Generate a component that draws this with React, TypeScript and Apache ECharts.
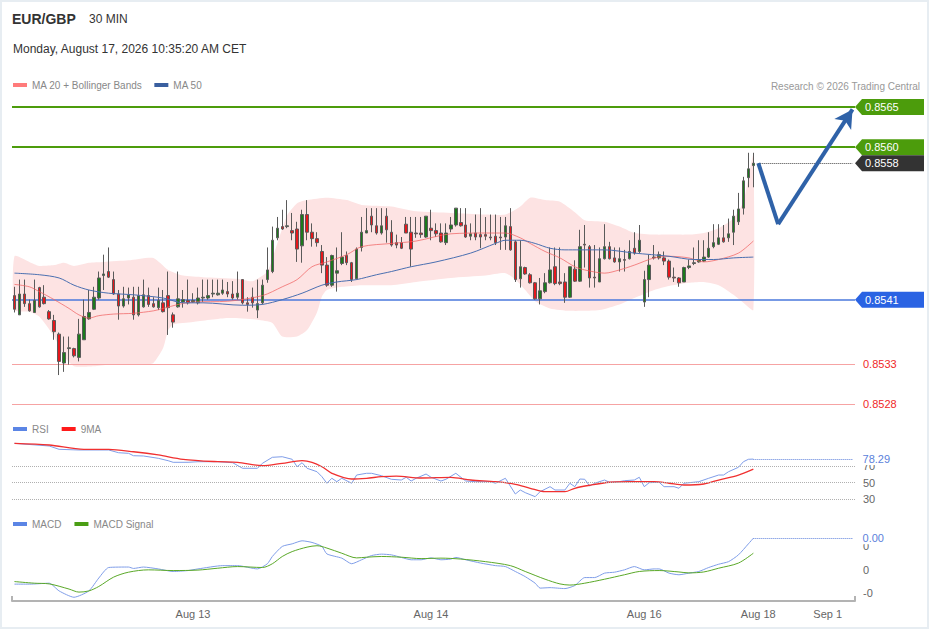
import React, { useEffect, useRef } from 'react';
import * as echarts from 'echarts';

const FONT = "'Liberation Sans', Arial, sans-serif";

// ---- axis / labels ----
const categoryCount = 170;
const xLabelIdx = [36, 84, 127, 150, 164];
const xLabelText = ['Aug 13', 'Aug 14', 'Aug 16', 'Aug 18', 'Sep 1'];

// ---- price levels ----
const resistanceLevels = [0.8565, 0.856];
const supportLevel = 0.8541;
const lowerLevels = [0.8533, 0.8528];
const lastPrice = 0.8558;
const forecastIdx = [150, 154, 169];
const forecastVal = [0.8558, 0.85504, 0.85647];

// ---- candles: [open, close, low, high] ----
const ohlc: number[][] = [
  [0.85415, 0.85398, 0.85394, 0.85426], [0.85391, 0.85417, 0.85391, 0.85435], [0.85417, 0.85405, 0.85401, 0.85435],
  [0.85405, 0.85396, 0.85395, 0.8541], [0.85394, 0.85409, 0.85394, 0.85435], [0.85425, 0.85401, 0.854, 0.85426],
  [0.85413, 0.85405, 0.85404, 0.85428], [0.85395, 0.85386, 0.85385, 0.85397], [0.85384, 0.8537, 0.8536, 0.85391],
  [0.85367, 0.85333, 0.85316, 0.85369], [0.85331, 0.85344, 0.8532, 0.85364], [0.85349, 0.8535, 0.85329, 0.85364],
  [0.85349, 0.8534, 0.85338, 0.8535], [0.85338, 0.85367, 0.85333, 0.85386], [0.8536, 0.85389, 0.8536, 0.8541],
  [0.85386, 0.85394, 0.85385, 0.85422], [0.85398, 0.85413, 0.85397, 0.85426], [0.85412, 0.85437, 0.8541, 0.85445],
  [0.8544, 0.85442, 0.85422, 0.85466], [0.85445, 0.85438, 0.85437, 0.85475], [0.85435, 0.85417, 0.85416, 0.85445],
  [0.85417, 0.85402, 0.85385, 0.85422], [0.85402, 0.85411, 0.854, 0.85426], [0.85412, 0.85416, 0.85404, 0.85425],
  [0.85413, 0.85391, 0.85385, 0.85426], [0.85391, 0.85415, 0.85389, 0.85426], [0.85401, 0.85416, 0.854, 0.85435],
  [0.85415, 0.85404, 0.85401, 0.85425], [0.85405, 0.85401, 0.854, 0.85413], [0.854, 0.85409, 0.85397, 0.85425],
  [0.85406, 0.85395, 0.85394, 0.85422], [0.85415, 0.854, 0.85366, 0.85445], [0.85391, 0.85382, 0.85375, 0.85394],
  [0.85401, 0.85411, 0.854, 0.85445], [0.85407, 0.8541, 0.854, 0.85422], [0.85409, 0.85406, 0.85404, 0.85435],
  [0.85407, 0.85409, 0.85406, 0.85418], [0.85406, 0.85412, 0.85404, 0.85425], [0.85412, 0.85413, 0.85407, 0.85435],
  [0.85412, 0.85415, 0.8541, 0.85435], [0.85417, 0.85418, 0.85413, 0.85435], [0.85416, 0.85418, 0.85415, 0.85435],
  [0.85418, 0.85422, 0.85416, 0.85435], [0.8542, 0.85417, 0.85413, 0.85432], [0.85417, 0.85412, 0.8541, 0.85433],
  [0.85413, 0.85418, 0.8541, 0.85445], [0.85435, 0.85406, 0.85404, 0.85435], [0.85406, 0.85404, 0.85395, 0.85413],
  [0.85413, 0.85406, 0.854, 0.85425], [0.85397, 0.85405, 0.85387, 0.85435], [0.85406, 0.85428, 0.85404, 0.85435],
  [0.85435, 0.85447, 0.85431, 0.85475], [0.85445, 0.85484, 0.85443, 0.85501], [0.85487, 0.85499, 0.85484, 0.85513],
  [0.85501, 0.85498, 0.85497, 0.85522], [0.85501, 0.85502, 0.85499, 0.85534], [0.85496, 0.85493, 0.85484, 0.85518],
  [0.85498, 0.85473, 0.85457, 0.85507], [0.85477, 0.85516, 0.85456, 0.85522], [0.85516, 0.85494, 0.85484, 0.85534],
  [0.85494, 0.85486, 0.85476, 0.85505], [0.85486, 0.85481, 0.85476, 0.85494], [0.8547, 0.85453, 0.85443, 0.85478],
  [0.85453, 0.85428, 0.85426, 0.85463], [0.85428, 0.85465, 0.85426, 0.85466], [0.85443, 0.85446, 0.8542, 0.85475],
  [0.85455, 0.85463, 0.85453, 0.85494], [0.85465, 0.85456, 0.85453, 0.8547], [0.85456, 0.85435, 0.85432, 0.85457],
  [0.85436, 0.85473, 0.85435, 0.85475], [0.85475, 0.85494, 0.8547, 0.85513], [0.85493, 0.85496, 0.85493, 0.85524],
  [0.85514, 0.85503, 0.85494, 0.85524], [0.85502, 0.85493, 0.85491, 0.85524], [0.85493, 0.85502, 0.85491, 0.85524],
  [0.85514, 0.85497, 0.85481, 0.85524], [0.85494, 0.85478, 0.85476, 0.85509], [0.85481, 0.85478, 0.85474, 0.85491],
  [0.85481, 0.85474, 0.85473, 0.85488], [0.85504, 0.85493, 0.85493, 0.85513], [0.85494, 0.85473, 0.85451, 0.85513],
  [0.85493, 0.85492, 0.85487, 0.85513], [0.85493, 0.85491, 0.85487, 0.85513], [0.85488, 0.85514, 0.85487, 0.85514],
  [0.85499, 0.85496, 0.85484, 0.85522], [0.85496, 0.85492, 0.85488, 0.85505], [0.85493, 0.85482, 0.85481, 0.85505],
  [0.85481, 0.85493, 0.85478, 0.85505], [0.85498, 0.85503, 0.85494, 0.85513], [0.85503, 0.85524, 0.85501, 0.85524],
  [0.85506, 0.85502, 0.85501, 0.85524], [0.85503, 0.85488, 0.85487, 0.85524], [0.85489, 0.85492, 0.85484, 0.85505],
  [0.85493, 0.85488, 0.85484, 0.85516], [0.85491, 0.85488, 0.85474, 0.85524], [0.85491, 0.85489, 0.85484, 0.85513],
  [0.85488, 0.85487, 0.85484, 0.85516], [0.85489, 0.85481, 0.85478, 0.85516], [0.85488, 0.85487, 0.85472, 0.85513],
  [0.85488, 0.85502, 0.85472, 0.85513], [0.85501, 0.85472, 0.85471, 0.85524], [0.85482, 0.85435, 0.85432, 0.85484],
  [0.85436, 0.85451, 0.85425, 0.85484], [0.8545, 0.85442, 0.85441, 0.85451], [0.85441, 0.85431, 0.8543, 0.85443],
  [0.85431, 0.85411, 0.8541, 0.85432], [0.85411, 0.85421, 0.85404, 0.85437], [0.8542, 0.85431, 0.85418, 0.85443],
  [0.85431, 0.85447, 0.8543, 0.85475], [0.85451, 0.8543, 0.85428, 0.85475], [0.85432, 0.8543, 0.85428, 0.85475],
  [0.85432, 0.85413, 0.85406, 0.85443], [0.85413, 0.85451, 0.85412, 0.85451], [0.85448, 0.85433, 0.85432, 0.85459],
  [0.85433, 0.85476, 0.85432, 0.85497], [0.85479, 0.85478, 0.8545, 0.85503], [0.85476, 0.85437, 0.85425, 0.85478],
  [0.85438, 0.85437, 0.85425, 0.85478], [0.85432, 0.85461, 0.85432, 0.85475], [0.85461, 0.85476, 0.8546, 0.85504],
  [0.85476, 0.85461, 0.8546, 0.85482], [0.85462, 0.85457, 0.85456, 0.85475], [0.85457, 0.85461, 0.85445, 0.85475],
  [0.8546, 0.85459, 0.85445, 0.85472], [0.85461, 0.8547, 0.8546, 0.85484], [0.85474, 0.85468, 0.85466, 0.85494],
  [0.8547, 0.85484, 0.85468, 0.85503], [0.85407, 0.85435, 0.85401, 0.85446], [0.85435, 0.85453, 0.85413, 0.85466],
  [0.85463, 0.85462, 0.8546, 0.85478], [0.85462, 0.85466, 0.8546, 0.8547], [0.85462, 0.85458, 0.85453, 0.8547],
  [0.85458, 0.85438, 0.85435, 0.8546], [0.85438, 0.85437, 0.85432, 0.8545], [0.85437, 0.85431, 0.85426, 0.85438],
  [0.85432, 0.8545, 0.85432, 0.85451], [0.8545, 0.85452, 0.85448, 0.8546], [0.85455, 0.85456, 0.85453, 0.85475],
  [0.85457, 0.8546, 0.85456, 0.85484], [0.85458, 0.85463, 0.85457, 0.85484], [0.85463, 0.85474, 0.85462, 0.85494],
  [0.85476, 0.85481, 0.85474, 0.85504], [0.85479, 0.85487, 0.85478, 0.85504], [0.85487, 0.85482, 0.85481, 0.85503],
  [0.85487, 0.85492, 0.85482, 0.85511], [0.85494, 0.85514, 0.85478, 0.85522], [0.85507, 0.85523, 0.85503, 0.85543],
  [0.85524, 0.85558, 0.85516, 0.85563], [0.85562, 0.85573, 0.8555, 0.85593], [0.85577, 0.8558, 0.8555, 0.85593],
];

// ---- overlays: [candle index, value] ----
const bbUpper = [
  [0, 0.85464], [3, 0.85457], [5, 0.85452], [8, 0.85453], [10, 0.85456], [12, 0.85452], [15, 0.85456], [18, 0.85457],
  [23, 0.85459], [28, 0.85462], [31, 0.85447], [34, 0.8544], [38, 0.85438], [45, 0.85436], [48, 0.85433], [51, 0.85445],
  [53, 0.8548], [55, 0.85515], [57, 0.8553], [59, 0.85534], [63, 0.85537], [67, 0.85534], [70, 0.85528], [76, 0.85526],
  [81, 0.8552], [88, 0.85518], [95, 0.85516], [99, 0.85516], [102, 0.85526], [104, 0.85537], [107, 0.85534],
  [110, 0.85532], [113, 0.85519], [115, 0.85509], [119, 0.85507], [122, 0.85501], [125, 0.85493], [129, 0.85491],
  [132, 0.85491], [136, 0.85491], [139, 0.85493], [142, 0.85499], [145, 0.85511], [147, 0.85532], [148, 0.85562],
  [149, 0.8559],
];
const bbLower = [
  [0, 0.85397], [3, 0.85395], [5, 0.85389], [8, 0.85364], [10, 0.85339], [12, 0.85327], [16, 0.85327], [19, 0.85329],
  [26, 0.85329], [28, 0.85331], [30, 0.8535], [31, 0.85372], [32, 0.85379], [36, 0.85382], [43, 0.85387], [49, 0.85385],
  [52, 0.85381], [54, 0.85364], [57, 0.85364], [59, 0.85372], [61, 0.85394], [62, 0.85414], [63, 0.85422], [66, 0.85426],
  [70, 0.85428], [76, 0.85428], [81, 0.85432], [88, 0.85437], [95, 0.8544], [99, 0.85443], [101, 0.85435], [103, 0.85422],
  [105, 0.85408], [108, 0.85399], [112, 0.85396], [118, 0.85397], [122, 0.85404], [125, 0.85412], [129, 0.85422],
  [132, 0.85427], [136, 0.85431], [139, 0.85432], [142, 0.85428], [145, 0.85416], [147, 0.85406], [149, 0.85397],
];
const ma20 = [
  [0, 0.85429], [3, 0.85426], [5, 0.8542], [8, 0.8541], [11, 0.85399], [13, 0.85391], [15, 0.85387], [17, 0.8539],
  [20, 0.85392], [24, 0.85393], [28, 0.85396], [30, 0.85399], [33, 0.85404], [36, 0.85407], [43, 0.85408], [50, 0.85415],
  [54, 0.85426], [57, 0.85435], [60, 0.85451], [63, 0.85457], [67, 0.85466], [70, 0.85476], [76, 0.8548], [81, 0.85483],
  [88, 0.85492], [95, 0.85493], [99, 0.85493], [102, 0.85487], [104, 0.8548], [107, 0.8547], [110, 0.85462],
  [113, 0.85451], [115, 0.85447], [119, 0.85443], [122, 0.85447], [125, 0.85453], [129, 0.85462], [132, 0.85464],
  [136, 0.85462], [139, 0.85457], [142, 0.8546], [146, 0.85468], [149, 0.85483],
];
const ma50 = [
  [0, 0.85443], [5, 0.85441], [9, 0.85437], [12, 0.85428], [15, 0.85422], [19, 0.85418], [24, 0.85416], [30, 0.85412],
  [34, 0.85406], [38, 0.85406], [46, 0.85403], [50, 0.85404], [54, 0.8541], [58, 0.85418], [62, 0.85428], [65, 0.85432],
  [69, 0.85435], [73, 0.85441], [76, 0.85445], [80, 0.85451], [85, 0.85457], [92, 0.85468], [97, 0.8548], [99, 0.85484],
  [102, 0.85484], [105, 0.8548], [108, 0.85474], [111, 0.85472], [114, 0.85472], [119, 0.85472], [125, 0.85468],
  [132, 0.85464], [137, 0.8546], [141, 0.8546], [145, 0.85462], [149, 0.85463],
];

// ---- RSI ----
const rsiLevels = [70, 50, 30];
const rsi = [
  [0, 97.2], [7, 94.0], [9, 90.0], [13, 89.2], [19, 89.2], [21, 85.9], [23, 85.2], [24, 82.3], [26, 82.0], [29, 79.2],
  [31, 76.3], [32, 74.4], [35, 74.4], [37, 75.1], [41, 75.1], [44, 73.9], [46, 67.2], [49, 67.2], [50, 73.2], [52, 80.4],
  [54, 81.1], [56, 78.0], [57, 69.1], [58, 73.9], [59, 67.2], [61, 63.1], [62, 57.1], [63, 49.2], [64, 55.2], [65, 51.1],
  [66, 55.2], [68, 49.2], [69, 59.1], [71, 61.2], [72, 61.2], [74, 58.3], [76, 54.0], [78, 53.1], [79, 56.4], [80, 51.9],
  [81, 55.2], [83, 60.3], [84, 56.4], [86, 51.9], [87, 54.0], [89, 61.2], [91, 51.9], [93, 51.1], [96, 51.1], [97, 49.2],
  [99, 55.2], [101, 36.3], [102, 41.1], [103, 37.9], [105, 33.1], [106, 39.1], [108, 45.1], [109, 41.1], [111, 41.1],
  [112, 49.2], [113, 45.1], [114, 54.3], [115, 54.0], [116, 45.9], [117, 49.2], [119, 53.1], [120, 50.4], [122, 51.1],
  [123, 52.3], [125, 53.1], [126, 56.4], [127, 45.1], [128, 49.9], [130, 50.4], [131, 45.1], [133, 45.1], [134, 43.2],
  [135, 49.2], [138, 51.1], [140, 55.2], [142, 59.1], [143, 59.1], [144, 63.1], [146, 68.4], [147, 75.1], [148, 78.0],
  [149, 78.29],
];
const rsiMa = [
  [0, 97.2], [7, 95.2], [14, 90.0], [19, 90.0], [24, 87.1], [29, 83.2], [34, 78.0], [41, 75.1], [45, 74.4], [50, 70.3],
  [54, 73.2], [58, 76.3], [60, 74.4], [62, 69.1], [64, 61.2], [68, 54.3], [71, 55.2], [74, 57.1], [77, 57.9], [82, 55.5],
  [88, 56.4], [92, 53.1], [97, 51.1], [101, 48.0], [104, 43.2], [107, 39.1], [111, 39.1], [113, 43.2], [116, 46.8],
  [120, 50.4], [124, 51.1], [129, 51.1], [132, 49.2], [135, 47.1], [139, 48.3], [142, 53.1], [146, 59.1], [149, 66.3],
];

// ---- MACD ----
const macdTicks = [0.0001, 0, -0.0001];
const macd = [
  [0, -0.000061], [3, -0.000061], [7, -0.000057], [9, -0.00009], [12, -0.000117], [15, -0.00009], [17, -0.000035],
  [19, 0.00001], [23, 0.000012], [24, 0.000006], [26, 0.000012], [29, 0.000004], [32, -0.000007], [35, -0.000003],
  [37, 0.000004], [42, 0.000018], [45, 0.000018], [49, 0.000004], [51, 0.000026], [52, 0.000057], [54, 0.0001],
  [56, 0.000111], [58, 0.000124], [60, 0.000117], [62, 0.0001], [63, 0.000068], [66, 0.00005], [68, 0.000026],
  [70, 0.000043], [72, 0.000061], [74, 0.000067], [76, 0.000064], [78, 0.000053], [80, 0.000043], [82, 0.000043],
  [84, 0.000051], [86, 0.000043], [88, 0.000046], [89, 0.000053], [91, 0.000043], [94, 0.000029], [97, 0.000018],
  [99, 0.000014], [101, -0.000007], [103, -0.000029], [105, -0.000057], [106, -0.000078], [108, -0.000076],
  [111, -0.00008], [113, -0.000067], [115, -0.000033], [117, -0.000033], [119, -0.000014], [121, -0.00001], [123, 0],
  [125, 0.000014], [127, 0], [129, 0.000004], [130, 0.000004], [132, -0.000014], [134, -0.000021], [136, -0.000014],
  [138, -0.000007], [140, 0.00001], [142, 0.000024], [144, 0.000035], [146, 0.000064], [148, 0.000111], [149, 0.000135],
];
const macdSignal = [
  [0, -0.00005], [4, -0.000057], [7, -0.00006], [11, -0.000082], [13, -0.000095], [15, -0.00009], [17, -0.000071],
  [20, -0.000031], [23, -0.00001], [27, 0], [32, -0.000003], [37, -0.000001], [41, 0.000007], [45, 0.000014],
  [50, 0.00001], [52, 0.000026], [54, 0.000057], [56, 0.000078], [59, 0.000097], [61, 0.000103], [63, 0.000093],
  [66, 0.000071], [69, 0.000051], [71, 0.000054], [74, 0.000057], [78, 0.000054], [82, 0.000048], [86, 0.00005],
  [90, 0.000046], [95, 0.000035], [100, 0.000018], [103, -0.000007], [107, -0.00004], [110, -0.00006], [112, -0.000065],
  [115, -0.000057], [119, -0.00004], [123, -0.000021], [126, -0.000007], [130, -0.000003], [134, -0.000009],
  [136, -0.000013], [139, -0.000009], [142, 0.000007], [146, 0.000029], [149, 0.000071],
];

const GRID_LEFT = 12;
const GRID_RIGHT_X = 855;

export default function App() {
  const ref = useRef<HTMLDivElement>(null);

  useEffect(() => {
    if (!ref.current) return;
    const chart = echarts.init(ref.current, null, { renderer: 'svg' });
    const categories = Array.from({ length: categoryCount }, (_, i) => {
      const k = xLabelIdx.indexOf(i);
      return k >= 0 ? xLabelText[k] : '';
    });
    const lastIdx = ohlc.length - 1;
    const endIdx = categoryCount - 1;
    const rsiLast = rsi[rsi.length - 1];
    const macdLast = macd[macd.length - 1];

    const grids = [
      { left: GRID_LEFT, width: GRID_RIGHT_X - GRID_LEFT, top: 99, height: 321 },
      { left: GRID_LEFT, width: GRID_RIGHT_X - GRID_LEFT, top: 441, height: 62.4 },
      { left: GRID_LEFT, width: GRID_RIGHT_X - GRID_LEFT, top: 523, height: 78 },
    ];

    const hiddenX = (gi: number) => ({
      type: 'category', gridIndex: gi, data: categories, boundaryGap: true, show: false,
    });

    const lineBase = {
      type: 'line', symbol: 'none', showSymbol: false, silent: true,
    };

    const legendBase = {
      icon: 'rect', itemWidth: 14, itemHeight: 4, padding: 0, selectedMode: false,
      textStyle: { fontSize: 10, color: '#888', fontFamily: FONT },
    };

    const hiddenLine = { color: 'rgba(0,0,0,0)', width: 1, type: 'solid' };
    const markBase = { silent: true, symbol: ['none', 'none'], animation: false, precision: 8 };

    const option: any = {
      animation: false,
      backgroundColor: '#ffffff',
      textStyle: { fontFamily: FONT },
      grid: grids,
      legend: [
        { ...legendBase, data: ['MA 20 + Bollinger Bands', 'MA 50'], left: 13, top: 80, itemGap: 12 },
        { ...legendBase, data: ['RSI', '9MA'], left: 13, top: 424, itemGap: 13 },
        { ...legendBase, data: ['MACD', 'MACD Signal'], left: 13, top: 519, itemGap: 13 },
      ],
      xAxis: [
        hiddenX(0),
        hiddenX(1),
        {
          type: 'category', gridIndex: 2, data: categories, boundaryGap: true,
          axisLine: { show: true, onZero: false, lineStyle: { color: '#b3b3b3', width: 2 } },
          axisTick: { show: true, inside: true, length: 5, interval: (i: number) => i === 0, lineStyle: { color: '#b3b3b3', width: 2 } },
          axisLabel: { interval: 0, color: '#666', fontSize: 11, margin: 7, fontFamily: FONT },
          splitLine: { show: false },
        },
      ],
      yAxis: [
        { type: 'value', gridIndex: 0, min: 0.8526, max: 0.8566, show: false, splitLine: { show: false } },
        { type: 'value', gridIndex: 1, min: 25, max: 100, show: false, splitLine: { show: false } },
        { type: 'value', gridIndex: 2, min: -0.000133, max: 0.0002, show: false, splitLine: { show: false } },
      ],
      series: [
        {
          type: 'custom', name: 'bollinger', xAxisIndex: 0, yAxisIndex: 0, z: 1, silent: true,
          data: [[0, bbUpper[0][1]]],
          renderItem: (params: any, api: any) => {
            if (params.dataIndex !== 0) return null;
            const pts = bbUpper.map((p) => api.coord(p)).concat(bbLower.slice().reverse().map((p) => api.coord(p)));
            return { type: 'polygon', shape: { points: pts, smooth: 0.2 }, style: { fill: '#fde3e3' }, silent: true };
          },
        },
        {
          type: 'candlestick', name: 'EUR/GBP', xAxisIndex: 0, yAxisIndex: 0, data: ohlc, barWidth: 3, z: 5, silent: true,
          itemStyle: { color: '#1c7a1c', color0: '#e5171c', borderColor: '#5a5a5a', borderColor0: '#5a5a5a', borderWidth: 1 },
        },
        {
          ...lineBase, name: 'MA 20 + Bollinger Bands', xAxisIndex: 0, yAxisIndex: 0, data: ma20, smooth: 0.3, z: 6,
          lineStyle: { width: 1, color: 'rgba(240,100,100,0.75)' }, itemStyle: { color: '#ff7b7b' },
        },
        {
          ...lineBase, name: 'MA 50', xAxisIndex: 0, yAxisIndex: 0, data: ma50, smooth: 0.3, z: 6,
          lineStyle: { width: 1, color: '#4a6fb0' }, itemStyle: { color: '#3a5f9f' },
          markLine: {
            ...markBase,
            data: [
              ...resistanceLevels.map((v) => ({ yAxis: v, lineStyle: { color: '#4c9c0c', width: 2, type: 'solid' }, label: { show: false } })),
              { yAxis: supportLevel, lineStyle: { color: '#4a78dc', width: 1.5, type: 'solid' }, label: { show: false } },
              ...lowerLevels.map((v) => ({
                yAxis: v, lineStyle: { color: '#f6a3a3', width: 1, type: 'solid' },
                label: { show: true, position: 'end', distance: 8, formatter: v.toFixed(4), color: '#f02828', fontSize: 11, fontFamily: FONT },
              })),
              [
                { coord: [forecastIdx[0], lastPrice], lineStyle: { color: '#444', width: 1, type: 'dotted' }, label: { show: false } },
                { coord: [endIdx, lastPrice] },
              ],
              [
                { coord: [forecastIdx[0], forecastVal[0]], lineStyle: { color: '#2f62a8', width: 4, type: 'solid' }, label: { show: false } },
                { coord: [forecastIdx[1], forecastVal[1]] },
              ],
              [
                { coord: [forecastIdx[1], forecastVal[1]], lineStyle: { color: '#2f62a8', width: 4, type: 'solid' }, label: { show: false } },
                { coord: [forecastIdx[2], forecastVal[2]], symbol: 'arrow', symbolSize: [15, 18] },
              ],
            ],
          },
        },
        {
          ...lineBase, name: 'RSI', xAxisIndex: 1, yAxisIndex: 1, data: rsi, z: 4,
          lineStyle: { width: 1, color: '#7f9de8' }, itemStyle: { color: '#5b85e5' },
          markLine: {
            ...markBase,
            data: [
              ...rsiLevels.map((v) => ({
                yAxis: v, lineStyle: { color: '#b0b0b0', width: 1, type: 'dotted' },
                label: { show: true, position: 'end', distance: 8, formatter: String(v), color: '#666', fontSize: 11, fontFamily: FONT },
              })),
              [
                {
                  coord: [lastIdx, rsiLast[1]], lineStyle: { color: '#5b7fdb', width: 1, type: 'dotted' },
                  label: {
                    show: true, position: 'end', distance: 10, formatter: rsiLast[1].toFixed(2), color: '#5b7fdb', fontSize: 11,
                    fontFamily: FONT, backgroundColor: '#ffffff', padding: [1, 2, 0, 0],
                  },
                },
                { coord: [endIdx, rsiLast[1]] },
              ],
            ],
          },
        },
        {
          ...lineBase, name: '9MA', xAxisIndex: 1, yAxisIndex: 1, data: rsiMa, smooth: 0.3, z: 4,
          lineStyle: { width: 1.3, color: '#f03030' }, itemStyle: { color: '#ff1a1a' },
        },
        {
          ...lineBase, name: 'MACD', xAxisIndex: 2, yAxisIndex: 2, data: macd, smooth: 0.2, z: 4,
          lineStyle: { width: 1, color: '#7f9de8' }, itemStyle: { color: '#5b85e5' },
          markLine: {
            ...markBase,
            data: [
              ...macdTicks.map((v) => ({
                yAxis: v, lineStyle: hiddenLine,
                label: { show: true, position: 'end', distance: 8, formatter: v.toFixed(0), color: '#666', fontSize: 11, fontFamily: FONT },
              })),
              [
                {
                  coord: [lastIdx, macdLast[1]], lineStyle: { color: '#5b7fdb', width: 1, type: 'dotted' },
                  label: {
                    show: true, position: 'end', distance: 10, formatter: macdLast[1].toFixed(2), color: '#5b7fdb', fontSize: 11,
                    fontFamily: FONT, backgroundColor: '#ffffff', padding: [1, 2, 0, 0],
                  },
                },
                { coord: [endIdx, macdLast[1]] },
              ],
            ],
          },
        },
        {
          ...lineBase, name: 'MACD Signal', xAxisIndex: 2, yAxisIndex: 2, data: macdSignal, smooth: 0.3, z: 4,
          lineStyle: { width: 1, color: '#5aa828' }, itemStyle: { color: '#4a9e14' },
        },
      ],
    };

    chart.setOption(option);

    const tag = (value: number, color: string) => {
      const c = chart.convertToPixel({ yAxisIndex: 0 }, value) as number;
      const x0 = GRID_RIGHT_X;
      return {
        type: 'group',
        silent: true,
        children: [
          {
            type: 'polygon',
            shape: { points: [[x0, c], [x0 + 7, c - 8], [924, c - 8], [924, c + 8], [x0 + 7, c + 8]] },
            style: { fill: color },
          },
          {
            type: 'text', x: x0 + 10, y: c,
            style: {
              text: value.toFixed(4), fill: '#ffffff', font: `11px ${FONT}`,
              verticalAlign: 'middle', textVerticalAlign: 'middle', align: 'left',
            },
          },
        ],
      };
    };

    const headerText = (text: string, x: number, y: number, font: string, fill: string, align = 'left') => ({
      type: 'text', x, y, silent: true,
      style: { text, font, fill, align, textAlign: align, verticalAlign: 'middle', textVerticalAlign: 'middle' },
    });

    chart.setOption({
      graphic: [
        headerText('EUR/GBP', 12, 19, `bold 14px ${FONT}`, '#333'),
        headerText('30 MIN', 89, 19, `12px ${FONT}`, '#333'),
        headerText('Monday, August 17, 2026 10:35:20 AM CET', 13, 49, `12px ${FONT}`, '#333'),
        headerText('Research © 2026 Trading Central', 920, 86, `10px ${FONT}`, '#999', 'right'),
        tag(resistanceLevels[0], '#4c9c0c'),
        tag(resistanceLevels[1], '#4c9c0c'),
        tag(lastPrice, '#333333'),
        tag(supportLevel, '#2a63e3'),
      ],
    });

    return () => chart.dispose();
  }, []);

  return (
    <div style={{ position: 'fixed', left: 0, top: 0, width: 929, height: 629, background: '#fff' }}>
      <div ref={ref} style={{ position: 'absolute', left: 0, top: 0, width: 929, height: 629 }} />
      <div
        style={{
          position: 'absolute', left: 0, top: 0, width: 929, height: 629, boxSizing: 'border-box',
          border: '2px solid #e7edf2', pointerEvents: 'none',
        }}
      />
    </div>
  );
}
